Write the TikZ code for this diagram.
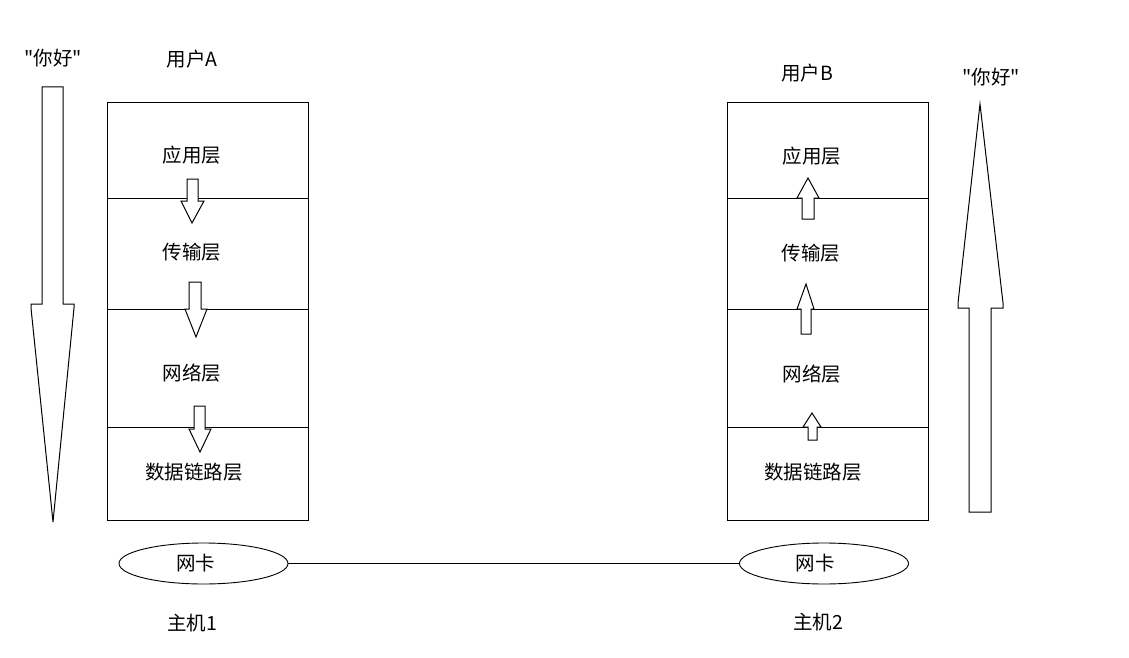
\documentclass[tikz,border=0pt]{standalone}
\usepackage{fontspec}
\setmainfont{Noto Sans CJK SC}[Ligatures=TeXOff]
\usetikzlibrary{shapes.geometric}
\begin{document}
\begin{tikzpicture}[x=1pt,y=-1pt,
  lay/.style={draw,line width=1pt,line join=miter},
  txt/.style={inner sep=0pt,font=\fontsize{19.5}{21}\selectfont},
  nic/.style={draw,ellipse,line width=0.9pt,minimum width=169pt,minimum height=41pt,inner sep=0pt,font=\fontsize{19.5}{21}\selectfont},
  arr/.style={draw,line width=1pt,line join=miter,fill=white}]
\useasboundingbox (0,0) rectangle (1129,658);
% left stack
\draw[lay] (107,103) rectangle (308,520);
\draw[lay] (107,198) -- (308,198);
\draw[lay] (107,309) -- (308,309);
\draw[lay] (107,427) -- (308,427);
% right stack
\draw[lay] (727,103) rectangle (928,520);
\draw[lay] (727,198) -- (928,198);
\draw[lay] (727,309) -- (928,309);
\draw[lay] (727,427) -- (928,427);
% left small arrows (down)
\draw[arr] (187,179) -- (198,179) -- (198,201) -- (204,201) -- (192,223) -- (181,201) -- (187,201) -- cycle;
\draw[arr] (189,282) -- (201,282) -- (201,309) -- (207,309) -- (196,337) -- (185,309) -- (189,309) -- cycle;
\draw[arr] (194,406) -- (205,406) -- (205,429) -- (211,429) -- (200,452) -- (189,429) -- (194,429) -- cycle;
% right small arrows (up)
\draw[arr] (802,219) -- (814,219) -- (814,198) -- (819,198) -- (808,178) -- (797,198) -- (802,198) -- cycle;
\draw[arr] (801,334) -- (811,334) -- (811,309) -- (814,309) -- (806,284) -- (797,309) -- (801,309) -- cycle;
\draw[arr] (808,440) -- (817,440) -- (817,427) -- (821,427) -- (812,413) -- (803,427) -- (808,427) -- cycle;
% big arrows
\draw[arr] (42,87) -- (63,87) -- (63,304) -- (74,304) -- (74,308) -- (53,522) -- (31,308) -- (31,304) -- (42,304) -- cycle;
\draw[arr] (969,512) -- (991,512) -- (991,308) -- (1003,308) -- (1003,303) -- (980,104) -- (958,303) -- (958,308) -- (969,308) -- cycle;
% texts
\node[txt] (hl) at (53,58) {"你好"};
\node[txt] (ua) at (192,59) {用户A};
\node[txt] (l1) at (192,155) {应用层};
\node[txt] (l2) at (192,252) {传输层};
\node[txt] (l3) at (192,373) {网络层};
\node[txt] (l4) at (194,472) {数据链路层};
\node[txt] (h1) at (192,623) {主机1};
\node[txt] (hr) at (991,77) {"你好"};
\node[txt] (ub) at (807,73) {用户B};
\node[txt] (r1) at (812,156) {应用层};
\node[txt] (r2) at (811,253) {传输层};
\node[txt] (r3) at (812,374) {网络层};
\node[txt] (r4) at (813,472) {数据链路层};
\node[txt] (h2) at (818,622) {主机2};
% NICs
\node[nic] (nic1) at (203.5,563.5) {网卡\hspace*{16pt}};
\node[nic] (nic2) at (824,563.5) {网卡\hspace*{18pt}};
\draw[line width=0.9pt] (nic1) -- (nic2);
\end{tikzpicture}
\end{document}
